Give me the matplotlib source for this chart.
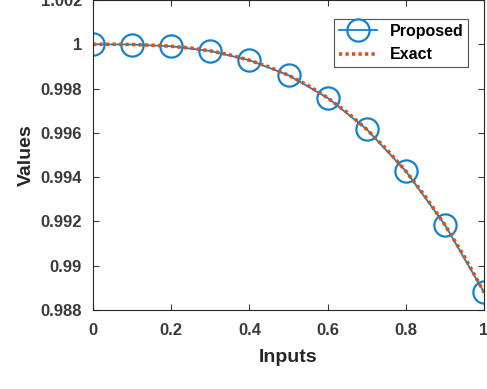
import matplotlib.pyplot as plt

# proposed method vs exact solution
inputs = [0.0, 0.1, 0.2, 0.3, 0.4, 0.5, 0.6, 0.7, 0.8, 0.9, 1.0]
proposed = [1.0, 0.99999, 0.99991, 0.99970, 0.99928, 0.99860, 0.99758, 0.99616, 0.99427, 0.99184, 0.98880]

exact_x = [0.0, 0.05, 0.1, 0.15, 0.2, 0.25, 0.3, 0.35, 0.4, 0.45, 0.5,
           0.55, 0.6, 0.65, 0.7, 0.75, 0.8, 0.85, 0.9, 0.95, 1.0]
exact_y = [1.0, 1.0, 0.99999, 0.99996, 0.99991, 0.99983, 0.99970, 0.99952, 0.99928, 0.99898, 0.99860,
           0.99814, 0.99758, 0.99692, 0.99616, 0.99527, 0.99427, 0.99312, 0.99184, 0.99040, 0.98880]

plt.rcParams['font.family'] = ['Liberation Sans', 'DejaVu Sans']
plt.rcParams['font.weight'] = 'bold'

fig = plt.figure(figsize=(4.87, 3.89), dpi=100)
ax = fig.add_axes([0.191, 0.203, 0.803, 0.797])

ax.plot(inputs, proposed, '-o', color='#1581cc', lw=1.3, ms=16, mfc='none', mew=1.6, label='Proposed')
ax.plot(exact_x, exact_y, color='#D95319', lw=2.6, ls=(0, (0.9, 0.9)), label='Exact')

ax.set_xlim(0, 1)
ax.set_ylim(0.988, 1.002)
ax.set_xticks([0, 0.2, 0.4, 0.6, 0.8, 1])
ax.set_xticklabels(['0', '0.2', '0.4', '0.6', '0.8', '1'])
ax.set_yticks([0.988, 0.99, 0.992, 0.994, 0.996, 0.998, 1.0, 1.002])
ax.set_yticklabels(['0.988', '0.99', '0.992', '0.994', '0.996', '0.998', '1', '1.002'])
ax.tick_params(direction='in', top=True, right=True, labelsize=12, colors='#3a3a3a', length=4, width=0.8)
ax.tick_params(axis='y', pad=8)
ax.tick_params(axis='x', pad=9)
for s in ax.spines.values():
    s.set_color('#262626')
    s.set_linewidth(0.8)

ax.set_xlabel('Inputs', fontsize=14, fontweight='bold', color='#262626', labelpad=8)
ax.set_ylabel('Values', fontsize=14, fontweight='bold', color='#262626', labelpad=4)

leg = ax.legend(loc='upper right', bbox_to_anchor=(0.98, 0.965), fontsize=11.5, frameon=True,
                fancybox=False, edgecolor='#262626', handlelength=2.4, borderpad=0.3, labelspacing=0.55)
leg.get_frame().set_linewidth(0.8)

fig.savefig('out.png', dpi=100)
